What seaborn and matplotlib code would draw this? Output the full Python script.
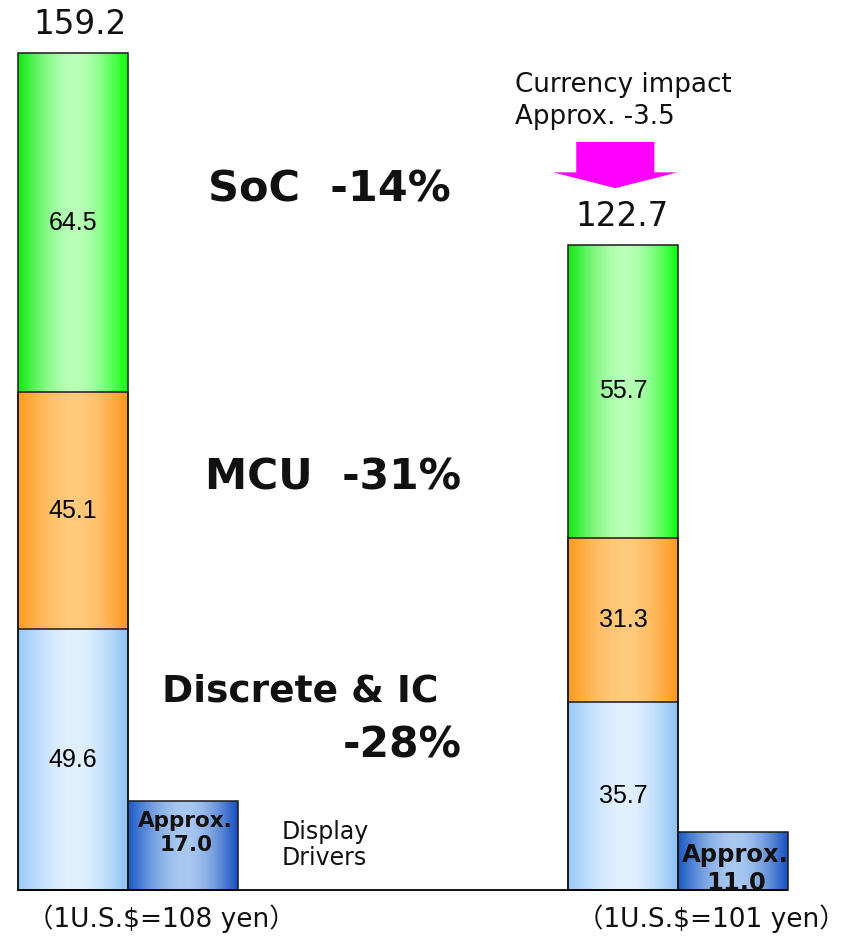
import numpy as np
import pandas as pd
import matplotlib
matplotlib.use("Agg")
import matplotlib.pyplot as plt
from matplotlib.patches import FancyArrow
import seaborn as sns

# ---- data -------------------------------------------------------------
periods = ["108 yen", "101 yen"]
period_labels = ["（1U.S.$=108 yen）", "（1U.S.$=101 yen）"]
discrete_ic = [49.6, 35.7]
mcu = [45.1, 31.3]
soc = [64.5, 55.7]
totals = [159.2, 122.7]
display_drivers = [17.0, 11.0]
dd_labels = ["Approx.\n17.0", "Approx.\n11.0"]
segment_names = ["Discrete & IC", "MCU", "SoC"]
change_labels = ["Discrete & IC", "-28%", "MCU  -31%", "SoC  -14%"]
currency_note = "Currency impact\nApprox. -3.5"

# category slots: main bar, display-driver bar, three empty gaps, ...
dd_names = [p + " DD" for p in periods]
slot_order = [periods[0], dd_names[0], "gap1", "gap2", "gap3", periods[1], dd_names[1]]

# horizontal gradient: (left edge, highlight, right edge)
gradients = {
    "Discrete & IC": ["#98c8f8", "#e0f0ff", "#8cc0f4"],
    "MCU": ["#ff9a20", "#ffca7c", "#ff961c"],
    "SoC": ["#10e810", "#b8ffb8", "#08ff08"],
    "Display Drivers": ["#1a58c4", "#a8c8f0", "#164ec0"],
}

sns.set_theme(style="white")
plt.rcParams["font.family"] = ["DejaVu Sans", "Noto Sans CJK JP"]

fig = plt.figure(figsize=(8.49, 9.42), dpi=100)
ax = fig.add_axes([0, 0, 1, 1])


def gradient_fill(patch, stops, z, peak=0.52):
    edge_l, hi, edge_r = (np.array(matplotlib.colors.to_rgb(c)) for c in stops)
    t = np.linspace(0, 1, 256)
    left = t < peak
    w = np.where(left, np.sin(0.5 * np.pi * t / peak),
                 np.sin(0.5 * np.pi * (1 - t) / (1 - peak)))
    edge = np.where(left[:, None], edge_l[None, :], edge_r[None, :])
    img = (edge * (1 - w[:, None]) + hi[None, :] * w[:, None])[None, :, :]
    x0, y0 = patch.get_x(), patch.get_y()
    im = ax.imshow(img, extent=(x0, x0 + patch.get_width(), y0, y0 + patch.get_height()),
                   aspect="auto", interpolation="bilinear", zorder=z)
    im.set_clip_path(patch)


def draw_layer(names, heights, stops, z):
    before = len(ax.patches)
    df = pd.DataFrame({"slot": names, "value": heights})
    sns.barplot(data=df, x="slot", y="value", order=slot_order, width=1.0,
                color=stops[1], errorbar=None, ax=ax)
    new = ax.patches[before:]
    for p in new:
        p.set_facecolor("none")
        p.set_edgecolor("#1a1a1a")
        p.set_linewidth(1.1)
        p.set_zorder(10)
        gradient_fill(p, stops, z)
    return new


# stacked main bars: draw cumulative heights from the top segment down
segments = [discrete_ic, mcu, soc]
cum = np.cumsum(np.array(segments), axis=0)
layer_patches = {}
for i in reversed(range(len(segments))):
    name = segment_names[i]
    layer_patches[name] = draw_layer(periods, cum[i], gradients[name], 2 + (3 - i) * 0.1)

dd_patches = draw_layer(dd_names, display_drivers, gradients["Display Drivers"], 2.5)

# segment value labels at the middle of each segment
for i, name in enumerate(segment_names):
    lower = cum[i - 1] if i > 0 else np.zeros(len(periods))
    for j, p in enumerate(layer_patches[name]):
        xc = p.get_x() + p.get_width() / 2
        ax.text(xc, lower[j] + segments[i][j] / 2, f"{segments[i][j]:.1f}",
                ha="center", va="center", fontsize=18,
                family="Liberation Sans", color="black", zorder=12)

# totals above the stacks
for j, p in enumerate(layer_patches["SoC"]):
    xc = p.get_x() + p.get_width() / 2
    ax.annotate(f"{totals[j]:.1f}", (xc, totals[j]), xytext=(5 if j == 0 else -1, 13.5),
                textcoords="offset points", ha="center", va="baseline",
                fontsize=23.5, color="#111111", zorder=12)

# display-driver labels inside the small bars, clipped to the bar
for j, p in enumerate(dd_patches):
    xc = p.get_x() + p.get_width() / 2
    t = ax.annotate(dd_labels[j], (xc, display_drivers[j]), xytext=(2, -7.5),
                    textcoords="offset points", ha="center", va="top",
                    fontsize=15.5 if j == 0 else 17.5, fontweight="bold",
                    linespacing=1.22, color="#111111", zorder=12)
    t.set_clip_path(p)

ax.text(282 / 849, 1 - 845 / 942, "Display\nDrivers", transform=ax.transAxes,
        ha="left", va="center", fontsize=17, linespacing=1.15, color="#111111")

# baseline across both periods
first, last = layer_patches["Discrete & IC"][0], dd_patches[-1]
ax.hlines(0, first.get_x(), last.get_x() + last.get_width(), color="black",
          lw=1.3, zorder=11)

# change annotations
ax.text(300 / 849, 1 - 691 / 942, change_labels[0], transform=ax.transAxes,
        ha="center", va="center", fontsize=27, fontweight="bold", color="#111111")
ax.text(462 / 849, 1 - 746 / 942, change_labels[1], transform=ax.transAxes,
        ha="right", va="center", fontsize=30.5, fontweight="bold", color="#111111")
ax.text(333 / 849, 1 - 478 / 942, change_labels[2], transform=ax.transAxes,
        ha="center", va="center", fontsize=30.5, fontweight="bold", color="#111111")
ax.text(329 / 849, 1 - 189 / 942, change_labels[3], transform=ax.transAxes,
        ha="center", va="center", fontsize=31, fontweight="bold", color="#111111")

# currency impact note and arrow above the second stack
ax.text(515 / 849, 1 - 101 / 942, currency_note, transform=ax.transAxes,
        ha="left", va="center", fontsize=18.8, linespacing=1.33, color="#111111")
rp = layer_patches["SoC"][1]
arrow_x = rp.get_x() + rp.get_width() / 2 - 0.07
arrow_top, arrow_tip = totals[1] + 19.6, totals[1] + 10.8
ax.add_patch(FancyArrow(arrow_x, arrow_top, 0, arrow_tip - arrow_top, width=0.71,
                        head_width=1.13, head_length=3.0, length_includes_head=True,
                        color="#ff00ff", lw=0, zorder=5))

# exchange-rate captions under each period
for j, p in enumerate(layer_patches["Discrete & IC"]):
    xc = p.get_x() + p.get_width() + 0.3
    ax.annotate(period_labels[j], (xc, 0), xytext=(0, -21), textcoords="offset points",
                ha="center", va="center", fontsize=19,
                family=["DejaVu Sans", "Noto Sans CJK JP"], color="#111111")

ax.set_xlim(-73 / 110, (849 - 73) / 110)
ax.set_ylim(-52 / 5.2575, 890 / 5.2575)
ax.axis("off")

fig.savefig("out.png", dpi=100)
